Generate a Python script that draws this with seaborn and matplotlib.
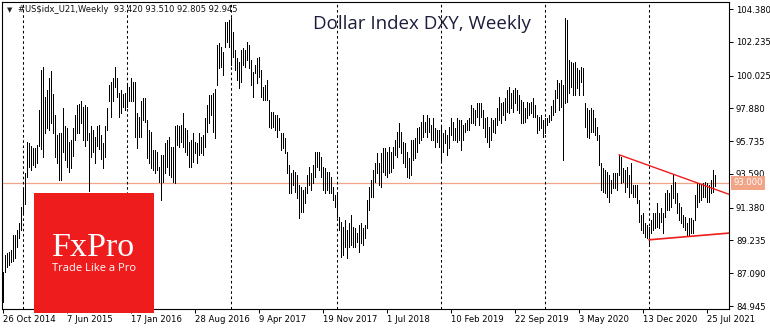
import numpy as np
import pandas as pd
import matplotlib
matplotlib.use("Agg")
import matplotlib.pyplot as plt
import seaborn as sns
from matplotlib.patches import Rectangle

# ---------------- data ----------------
first_week = "2014-10-26"

highs = [
    87.17, 88.30, 88.40, 88.50, 88.60, 89.60, 89.60, 89.90, 90.40, 91.40,
    92.70, 93.65, 95.70, 95.60, 95.40, 95.30, 95.30, 95.50, 97.80, 100.40,
    100.60, 98.60, 99.10, 99.90, 100.30, 98.80, 97.45, 96.15, 96.30, 96.30,
    97.90, 96.70, 96.60, 95.70, 95.80, 96.60, 97.45, 98.10, 98.20, 98.40,
    98.00, 98.10, 98.00, 96.30, 96.70, 96.50, 96.00, 96.70, 96.80, 96.15,
    95.60, 96.70, 97.90, 99.40, 99.60, 99.90, 100.60, 99.90, 98.90, 99.10,
    98.80, 98.90, 99.50, 99.30, 99.90, 99.60, 99.60, 97.60, 97.30, 98.37,
    98.57, 98.57, 97.13, 96.47, 96.34, 95.16, 95.16, 95.03, 94.05, 94.83,
    94.83, 95.62, 95.82, 96.01, 95.36, 95.36, 96.73, 96.80, 96.73, 96.80,
    97.58, 96.60, 96.47, 95.69, 95.82, 96.27, 95.69, 95.62, 96.27, 96.01,
    96.14, 97.26, 98.11, 98.76, 98.76, 98.89, 99.16, 102.04, 102.17, 101.91,
    101.58, 103.54, 103.54, 103.67, 103.80, 102.89, 101.71, 101.19, 100.93, 101.71,
    101.84, 101.71,
    102.23, 102.04, 101.05, 100.27, 100.73, 101.19, 101.25, 100.40, 99.29, 99.42,
    99.75, 98.44, 97.65, 97.65, 97.45, 97.45, 97.26, 96.27, 96.27, 95.95,
    95.03, 94.18, 93.65, 93.85, 93.72, 93.52, 92.87, 92.74, 92.54, 92.74,
    93.52, 94.05, 93.65, 94.18, 95.03, 95.03, 95.03, 94.70, 94.05, 93.98,
    93.72, 93.72, 93.39, 92.74, 92.21, 92.41, 90.77, 90.45, 90.12, 90.58,
    89.92, 90.38, 90.90, 90.12, 90.05, 89.73, 90.25, 90.38, 90.05, 90.25,
    91.89, 92.74,
    93.20, 93.85, 94.31, 94.97, 94.31, 94.97, 95.29, 95.29, 95.03, 95.36,
    95.03, 95.36, 95.82, 96.34, 96.93, 96.34, 95.69, 95.62, 95.03, 94.64,
    95.82, 95.82, 95.95, 96.60, 96.67, 96.99, 97.45, 96.99, 97.45, 97.26,
    96.80, 97.26, 96.60, 96.47, 96.47, 96.67, 96.27, 96.47, 96.14, 96.67,
    97.26, 96.99, 96.60, 97.26, 97.13, 97.13, 96.80, 96.93, 97.13, 97.26,
    98.11, 97.91, 97.78, 98.24, 98.24, 98.24, 97.78, 97.26, 97.32, 96.67,
    97.26,
    97.13, 97.26, 97.91, 98.63, 98.24, 98.31, 98.57, 99.09, 99.29, 98.89,
    99.09, 99.22, 99.09, 98.76, 98.44, 98.31, 97.91, 98.31, 98.24, 98.31,
    98.57, 98.11, 97.45, 97.32, 97.45, 97.13, 97.26, 97.26, 97.45, 98.04,
    98.44, 99.09, 99.75, 99.55, 99.75, 99.40, 103.80, 103.67, 101.05, 100.93,
    100.86, 100.93, 100.53, 100.40, 100.60, 100.53, 98.24, 97.91, 97.78, 97.91,
    97.78, 97.26, 96.67, 96.14, 94.31, 93.98, 93.85, 93.72, 93.52, 93.20,
    93.65,
    93.65, 93.65, 94.83, 94.70, 93.98, 93.85, 94.05, 93.52, 94.31, 92.87,
    92.87, 92.87, 91.89, 90.90, 91.04, 90.38, 90.25, 90.12, 90.58, 91.04,
    91.04, 91.69, 91.04, 91.36, 91.04, 92.35, 92.54, 92.35, 92.87, 93.52,
    93.07, 92.35, 91.69, 91.43, 90.90, 90.77, 90.38, 90.71, 90.71, 90.58,
    92.21, 93.00, 93.00, 92.87, 93.00, 93.07, 93.00, 92.87, 93.20, 93.85,
    93.51,
]

lows = [
    85.20, 87.20, 87.50, 87.60, 87.80, 87.90, 88.10, 88.80, 89.40, 89.90,
    91.00, 91.60, 93.40, 94.05, 93.85, 94.20, 94.05, 94.30, 95.40, 95.20,
    94.70, 96.30, 96.60, 96.50, 96.90, 96.30, 94.70, 94.30, 93.20, 93.20,
    95.00, 94.50, 94.05, 93.70, 94.00, 94.80, 95.80, 96.30, 96.30, 96.90,
    95.80, 95.40, 95.80, 92.50, 94.70, 95.00, 94.30, 95.40, 95.20, 94.60,
    94.00, 94.70, 96.50, 98.40, 97.30, 98.40, 99.30, 98.60, 97.30, 97.60,
    98.00, 97.80, 98.00, 98.40, 98.40, 98.40, 96.00, 95.30, 96.00, 96.01,
    97.13, 97.00, 94.64, 94.31, 93.98, 93.85, 93.65, 93.85, 93.07, 91.89,
    93.07, 93.65, 94.05, 93.52, 93.39, 93.07, 93.00, 95.49, 95.36, 95.69,
    95.36, 95.03, 94.83, 94.05, 94.05, 94.38, 94.97, 94.31, 94.83, 94.97,
    94.83, 95.36, 96.34, 96.93, 97.45, 96.34, 95.95, 99.42, 100.53, 100.60,
    100.07, 101.91, 102.23, 101.91, 100.73, 101.25, 100.40, 99.75, 99.22, 99.62,
    100.73, 100.60,
    101.05, 100.53, 99.42, 98.63, 100.20, 99.55, 99.94, 98.63, 98.44, 98.44,
    98.44, 96.67, 96.60, 96.67, 96.47, 96.01, 96.47, 95.16, 95.29, 94.97,
    93.65, 92.35, 92.35, 92.87, 92.41, 92.02, 90.71, 91.10, 91.10, 91.69,
    92.35, 92.87, 92.54, 93.00, 93.39, 94.05, 93.85, 93.39, 92.54, 92.35,
    92.54, 92.35, 92.35, 91.89, 91.43, 90.77, 89.92, 88.15, 88.28, 88.81,
    88.09, 88.81, 88.94, 88.81, 88.81, 89.14, 88.48, 89.07, 88.94, 89.40,
    90.05, 91.23,
    92.08, 92.08, 93.07, 93.65, 92.87, 92.74, 93.72, 93.52, 93.39, 93.65,
    93.72, 93.98, 94.83, 94.70, 95.36, 94.97, 94.31, 94.05, 93.39, 93.33,
    93.52, 94.51, 94.64, 95.03, 95.62, 95.82, 96.01, 96.34, 96.01, 96.34,
    95.82, 95.82, 95.36, 95.69, 95.36, 94.51, 95.03, 95.62, 94.83, 95.29,
    96.14, 95.82, 95.82, 95.69, 95.82, 95.16, 95.82, 96.34, 96.47, 96.47,
    96.93, 96.93, 96.80, 97.32, 96.80, 97.32, 96.60, 96.01, 95.69, 95.36,
    95.82,
    96.34, 96.27, 96.80, 97.13, 96.93, 97.45, 97.13, 97.65, 97.58, 97.91,
    97.65, 98.24, 97.78, 97.58, 96.93, 96.93, 96.99, 97.26, 97.45, 97.58,
    97.32, 97.32, 96.27, 96.47, 96.60, 96.01, 96.27, 96.80, 96.99, 97.13,
    97.45, 97.65, 98.57, 97.78, 97.98, 94.51, 98.24, 98.31, 98.89, 99.29,
    98.76, 98.76, 99.22, 98.76, 99.62, 98.76, 96.67, 96.01, 95.95, 96.34,
    96.34, 96.14, 95.82, 94.18, 92.54, 92.41, 92.35, 92.08, 91.76, 92.35,
    92.67,
    92.67, 92.54, 93.52, 93.00, 93.07, 92.41, 92.74, 92.08, 92.35, 92.08,
    92.08, 91.69, 90.45, 89.92, 89.73, 89.47, 89.40, 88.94, 89.73, 89.92,
    90.05, 90.12, 90.05, 90.45, 89.73, 90.77, 91.23, 91.23, 91.43, 92.02,
    91.69, 91.04, 90.58, 90.38, 90.12, 89.92, 89.60, 89.60, 89.73, 89.73,
    90.58, 91.43, 91.76, 91.89, 92.08, 92.08, 91.76, 91.76, 92.35, 92.41,
    92.81,
]

date_labels = ["26 Oct 2014", "7 Jun 2015", "17 Jan 2016", "28 Aug 2016",
               "9 Apr 2017", "19 Nov 2017", "1 Jul 2018", "10 Feb 2019",
               "22 Sep 2019", "3 May 2020", "13 Dec 2020", "25 Jul 2021"]
price_ticks = [104.380, 102.235, 100.025, 97.880, 95.735, 93.590,
               91.380, 89.235, 87.090, 84.945]
separator_years = [2015, 2016, 2017, 2018, 2019, 2020, 2021]
current_level = 93.000
upper_trend_dates = ["2020-09-20", "2021-10-10"]
upper_trend_prices = [94.85, 92.26]
lower_trend_dates = ["2021-01-03", "2021-10-10"]
lower_trend_prices = [89.28, 89.72]
axis_end_date = "2021-10-10"

header = r"#US\$idx_U21,Weekly  93.420 93.510 92.805 92.945"
title = "Dollar Index DXY, Weekly"

# ---------------- build ----------------
n = len(highs)
dates = pd.date_range(first_week, periods=n, freq="7D")
df = pd.DataFrame({
    "date": np.repeat(dates, 2),
    "price": np.column_stack([lows, highs]).ravel(),
    "bar": np.repeat(np.arange(n), 2),
})

sns.set_theme(style="white")
plt.rcParams["font.family"] = ["DejaVu Sans"]

W, H = 770, 330
fig = plt.figure(figsize=(W / 100, H / 100), dpi=100)
fig.patch.set_facecolor("white")
ax = fig.add_axes([2 / W, 21 / H, 727 / W, 307 / H])
ax.set_facecolor("white")

sns.lineplot(data=df, x="date", y="price", units="bar", estimator=None,
             color="black", lw=0.72, sort=False, ax=ax, legend=False,
             antialiased=False, solid_capstyle="butt")

# year separators at the first weekly bar of each year
for yr in separator_years:
    d = dates[dates.year == yr][0]
    ax.axvline(d, color="black", lw=0.75, ls=(0, (2.5, 2.5)), zorder=1)

ax.axhline(current_level, color="#F2A487", lw=0.9, zorder=0.5)

red = "#EE1C1C"
ax.plot(pd.to_datetime(upper_trend_dates), upper_trend_prices, color=red, lw=1.0)
ax.plot(pd.to_datetime(lower_trend_dates), lower_trend_prices, color=red, lw=1.2)

ax.set_xlim(dates[0] - pd.Timedelta(days=3.5), pd.Timestamp(axis_end_date))
ax.set_ylim(84.75, 104.85)

ax.yaxis.tick_right()
ax.set_yticks(price_ticks)
ax.set_yticklabels([f"{v:.3f}" for v in price_ticks])
tick_dates = pd.to_datetime(date_labels, format="%d %b %Y")
ax.set_xticks(tick_dates)
ax.set_xticklabels(date_labels, ha="left")
ax.tick_params(axis="y", which="both", direction="out", length=3, width=0.7,
               pad=2, labelsize=6.1, colors="black", right=True, left=False)
ax.tick_params(axis="x", direction="out", length=3, width=0.7, pad=1.5,
               labelsize=6.1, colors="black", bottom=True)
for lab in ax.get_xticklabels():
    lab.set_horizontalalignment("left")
ax.set_xlabel("")
ax.set_ylabel("")
for s in ax.spines.values():
    s.set_color("black")
    s.set_linewidth(0.8)

# current price tag on the right axis
ax.annotate(f"{current_level:.3f}", xy=(1, current_level),
            xycoords=("axes fraction", "data"), xytext=(3, 0),
            textcoords="offset points", ha="left", va="center",
            fontsize=6.1, color="white",
            bbox=dict(boxstyle="square,pad=0.3", fc="#F2A487", ec="none"),
            annotation_clip=False)

# header and title
fig.text(7 / W, 1 - 10 / H, "▼", fontsize=5, va="center", ha="left", color="#222222")
fig.text(18 / W, 1 - 10 / H, header, fontsize=6.0, va="center", ha="left", color="#111111")
fig.text(422 / W, 1 - 24 / H, title, fontsize=13.5, va="center", ha="center",
         color="#1c1c3c", family=["Open Sans", "DejaVu Sans"])

# logo
fig.patches.append(Rectangle((34 / W, (H - 313) / H), 120 / W, 120 / H,
                             transform=fig.transFigure, facecolor=red,
                             edgecolor="none", zorder=10))
fig.text(94 / W, (H - 256) / H, "FxPro", fontsize=24.5, color="white",
         ha="center", va="baseline", family=["Liberation Serif", "DejaVu Serif"],
         zorder=11)
fig.text(94 / W, (H - 271) / H, "Trade Like a Pro", fontsize=8.0, color="white",
         ha="center", va="baseline", family=["Open Sans", "DejaVu Sans"], zorder=11)

fig.savefig("out.png", dpi=100)
